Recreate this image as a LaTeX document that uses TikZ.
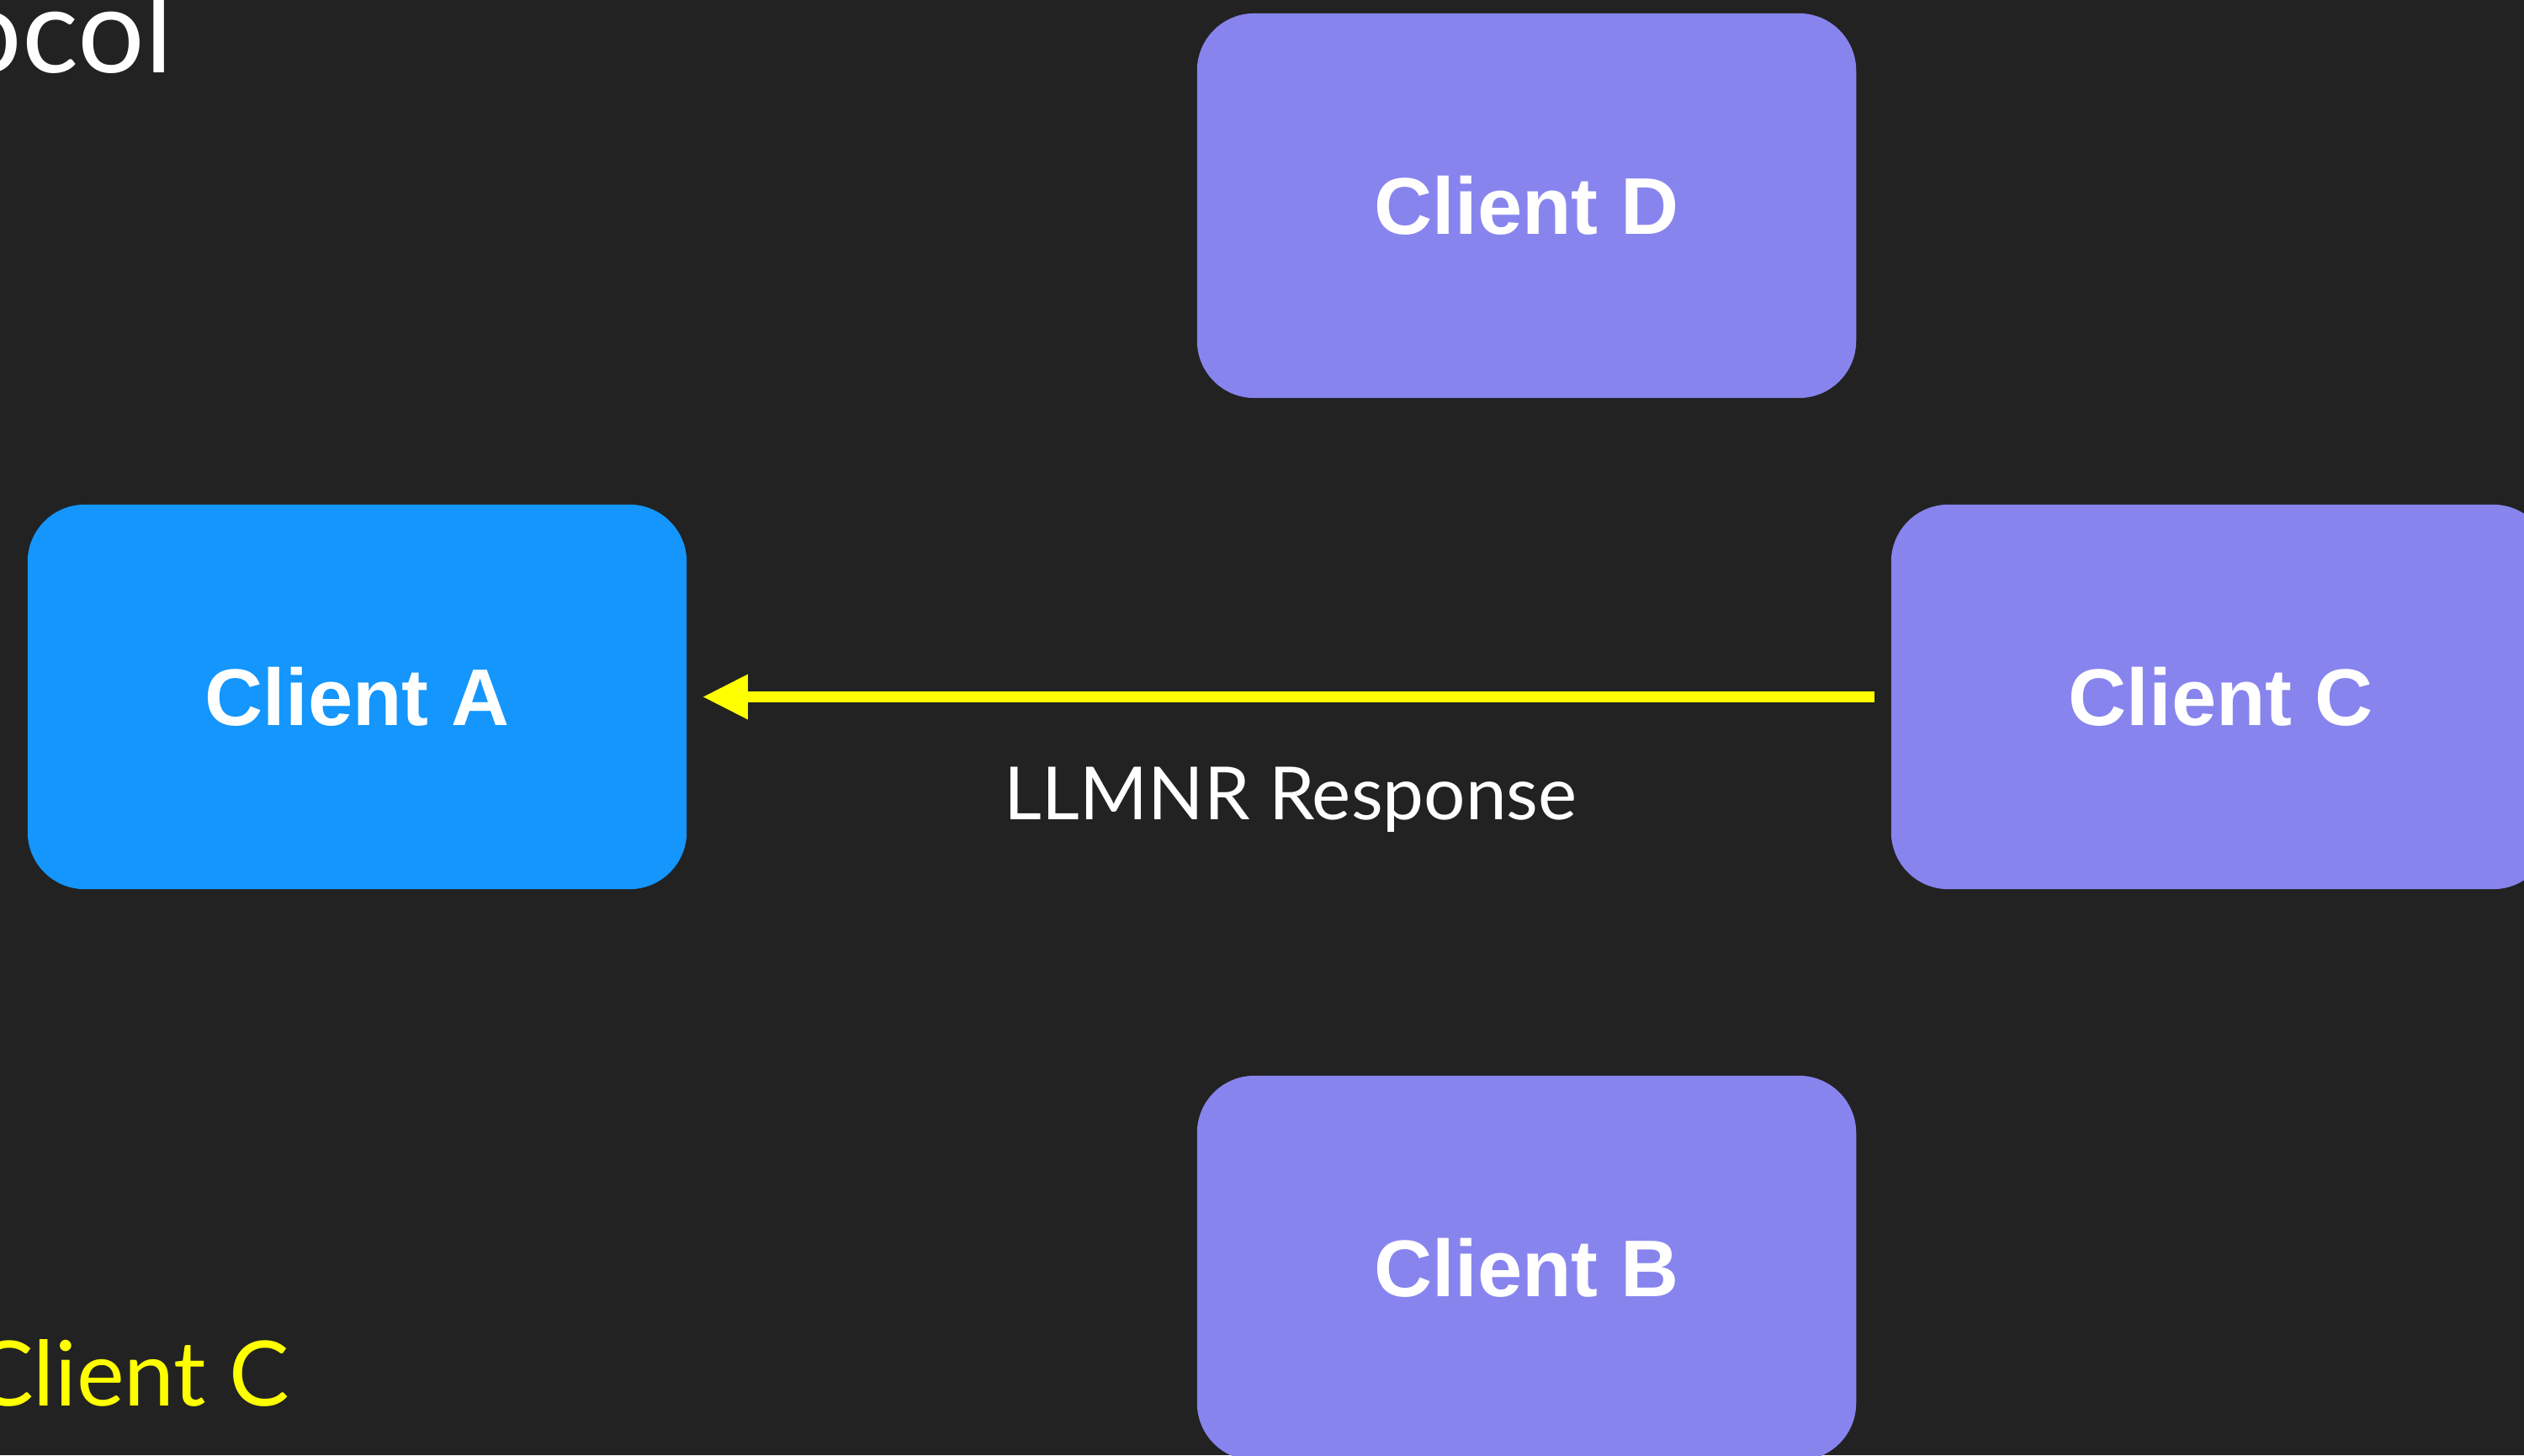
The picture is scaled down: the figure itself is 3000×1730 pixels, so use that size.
\documentclass[tikz,border=0pt]{standalone}
\usepackage{fontspec}
\setmainfont{Lato}
\newfontfamily\boxfont{Liberation Sans}[BoldFont={* Bold}]
\usetikzlibrary{arrows.meta}

\definecolor{bgdark}{HTML}{222222}
\definecolor{clientpurple}{HTML}{8884EE}
\definecolor{clientblue}{HTML}{1496FC}
\definecolor{signal}{HTML}{FFFF00}

\tikzset{
  client/.style={rectangle, rounded corners=0.68cm, inner sep=0pt,
    minimum width=7.83cm, minimum height=4.57cm, fill=clientpurple,
    text=white, font=\boxfont\bfseries\fontsize{27.2}{32}\selectfont},
  caption/.style={inner sep=0pt, text=white},
  msgarrow/.style={draw=signal, line width=0.135cm,
    -{Triangle[length=0.53cm, width=0.54cm, line width=0pt]}}
}

\begin{document}
\begin{tikzpicture}[x=0.01cm, y=-0.01cm]
  % canvas
  \useasboundingbox (0,0) rectangle (3000,1730);
  \fill[bgdark] (0,0) rectangle (3000,1730);
  \clip (0,0) rectangle (3000,1730);

  % heading and note, both running off the left edge
  \node[caption, anchor=base east, font=\fontsize{40}{44}\selectfont]
    (heading) at (206,86) {Protocol};
  \node[caption, anchor=base east, text=signal, font=\fontsize{30.5}{36}\selectfont]
    (note) at (345,1671) {Client C};

  % clients
  \node[client, fill=clientblue] (ca) at (424.5,828.5) {Client A};
  \node[client] (cd) at (1814.5,244.5) {Client D};
  \node[client] (cc) at (2639.5,828.5) {Client C};
  \node[client] (cb) at (1814.5,1507.5) {Client B};

  % response from C to A
  \draw[msgarrow, shorten <=0.19cm, shorten >=0.19cm] (cc.west) -- (ca.east);
  \node[caption, anchor=base, font=\fontsize{24.8}{28}\selectfont]
    (resp) at (1534,974) {LLMNR Response};
\end{tikzpicture}
\end{document}
